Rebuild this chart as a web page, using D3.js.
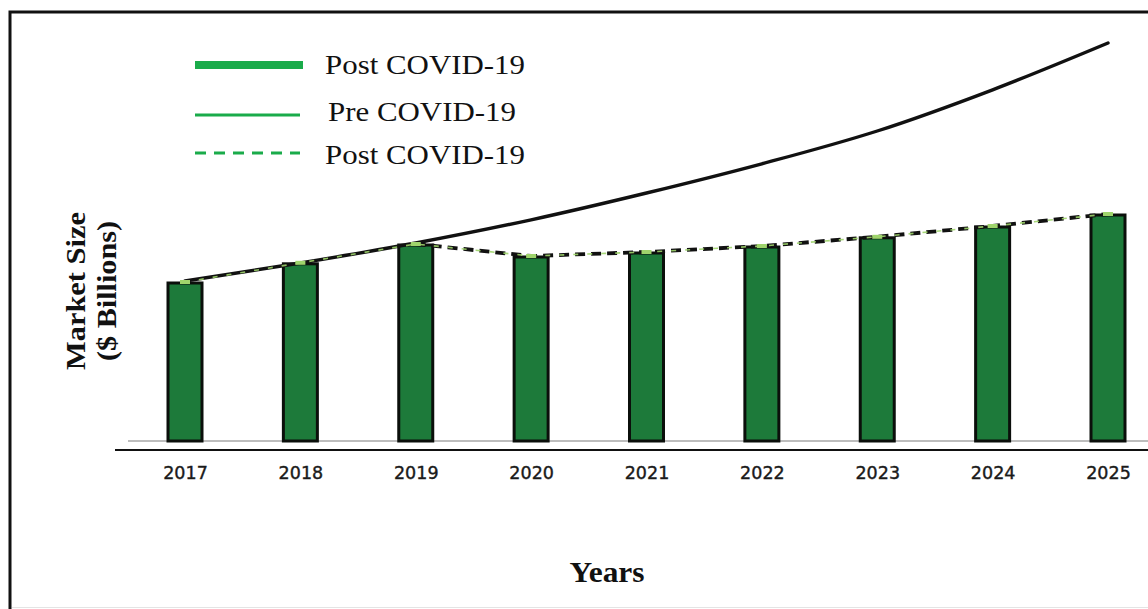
<!DOCTYPE html>
<html>
<head>
<meta charset="utf-8">
<script src="https://cdn.jsdelivr.net/npm/d3@7"></script>
<style>
  html, body { margin: 0; padding: 0; background: #fff; }
  svg { display: block; }
</style>
</head>
<body>
<svg id="chart" width="1148" height="609"></svg>
<script>
// Market size by year, $ billions
const years = ["2017", "2018", "2019", "2020", "2021", "2022", "2023", "2024", "2025"];
const postCovid = [39.5, 44.3, 49.0, 46.0, 47.0, 48.5, 50.8, 53.5, 56.5];
const preCovid = [40.0, 44.5, 49.5, 55.3, 62.0, 69.3, 77.5, 87.8, 99.5];
const legendLabels = ["Post COVID-19", "Pre COVID-19", "Post COVID-19"];

const svg = d3.select("#chart");
const W = 1148, H = 609;
const serif = "'Liberation Serif', 'Times New Roman', serif";

const x = d3.scalePoint().domain(years).range([185, 1108]);
const y = d3.scaleLinear().domain([0, 100]).range([441, 41]);
const barW = 34;

// frame (right and bottom edges run off the canvas)
svg.append("rect")
  .attr("x", 10).attr("y", 12)
  .attr("width", W + 20).attr("height", H + 20)
  .attr("fill", "#fff").attr("stroke", "#111").attr("stroke-width", 3);
svg.append("line")
  .attr("x1", 12).attr("x2", W).attr("y1", 607.5).attr("y2", 607.5)
  .attr("stroke", "#e4e4e4").attr("stroke-width", 1);

// light baseline behind bars
svg.append("line")
  .attr("x1", 128).attr("x2", W).attr("y1", y(0)).attr("y2", y(0))
  .attr("stroke", "#bdbdbd").attr("stroke-width", 2);

// x axis
const xAxis = d3.axisBottom(x).tickSize(0).tickPadding(17);
const gx = svg.append("g").attr("transform", "translate(0,450)").call(xAxis);
gx.select(".domain").remove();
gx.append("line").attr("x1", 115).attr("x2", W).attr("y1", 0).attr("y2", 0)
  .attr("stroke", "#111").attr("stroke-width", 2);
gx.selectAll(".tick text")
  .attr("fill", "#1a1a1a")
  .attr("stroke", "#1a1a1a").attr("stroke-width", 0.4)
  .style("font-family", "'DejaVu Sans', sans-serif")
  .style("font-size", "17.5px");

// bars
svg.append("g").selectAll("rect")
  .data(years.map((yr, i) => ({ yr, v: postCovid[i] })))
  .join("rect")
  .attr("x", d => x(d.yr) - barW / 2)
  .attr("y", d => y(d.v))
  .attr("width", barW)
  .attr("height", d => y(0) - y(d.v))
  .attr("fill", "#1d7a3a")
  .attr("stroke", "#0b0f0b")
  .attr("stroke-width", 3);

// pre COVID-19 trend
const pre = years.map((yr, i) => [x(yr), y(preCovid[i])]);
svg.append("path")
  .attr("d", d3.line().curve(d3.curveMonotoneX)(pre))
  .attr("fill", "none").attr("stroke", "#111").attr("stroke-width", 3.4)
  .attr("stroke-linecap", "round");

// post COVID-19 trend (dashed from 2019 on)
const post = years.map((yr, i) => [x(yr), y(postCovid[i]) - 1]);
svg.append("path")
  .attr("d", d3.line()(post.slice(2)))
  .attr("fill", "none").attr("stroke", "#111").attr("stroke-width", 3.8)
  .attr("stroke-dasharray", "10,6");
svg.append("path")
  .attr("d", d3.line()(post))
  .attr("fill", "none").attr("stroke", "#9fd46c").attr("stroke-width", 1.6)
  .attr("stroke-dasharray", "5,9").attr("opacity", 0.9);
svg.append("g").selectAll("rect")
  .data(post)
  .join("rect")
  .attr("x", d => d[0] - 5).attr("y", d => d[1] - 2)
  .attr("width", 10).attr("height", 4)
  .attr("fill", "#9fd46c");

// legend
const legend = svg.append("g");
const lg = [
  { y: 65, w: 8, dash: null, ty: 74, tx: 325, len: 200 },
  { y: 115, w: 3, dash: null, ty: 121, tx: 328, len: 188 },
  { y: 153, w: 3, dash: "11,8", ty: 164, tx: 325, len: 200 }
];
lg.forEach((d, i) => {
  legend.append("line")
    .attr("x1", 195).attr("x2", i === 0 ? 303 : 300)
    .attr("y1", d.y).attr("y2", d.y)
    .attr("stroke", "#1aab4a").attr("stroke-width", d.w)
    .attr("stroke-dasharray", d.dash);
  legend.append("text")
    .attr("x", d.tx).attr("y", d.ty)
    .attr("fill", "#111")
    .attr("textLength", d.len).attr("lengthAdjust", "spacingAndGlyphs")
    .style("font-family", serif)
    .style("font-size", "28px")
    .text(legendLabels[i]);
});

// axis titles
svg.append("text")
  .attr("x", 607).attr("y", 582)
  .attr("text-anchor", "middle")
  .attr("fill", "#111")
  .attr("textLength", 75).attr("lengthAdjust", "spacingAndGlyphs")
  .style("font-family", serif)
  .style("font-weight", "bold").style("font-size", "29px")
  .text("Years");

const yt = svg.append("text")
  .attr("transform", "translate(0,291) rotate(-90)")
  .attr("text-anchor", "middle")
  .attr("fill", "#111")
  .style("font-family", serif)
  .style("font-weight", "bold").style("font-size", "28px");
yt.append("tspan").attr("x", 0).attr("y", 85)
  .attr("textLength", 158).attr("lengthAdjust", "spacingAndGlyphs")
  .text("Market Size");
yt.append("tspan").attr("x", 0).attr("y", 116)
  .attr("textLength", 140).attr("lengthAdjust", "spacingAndGlyphs")
  .text("($ Billions)");
</script>
</body>
</html>
